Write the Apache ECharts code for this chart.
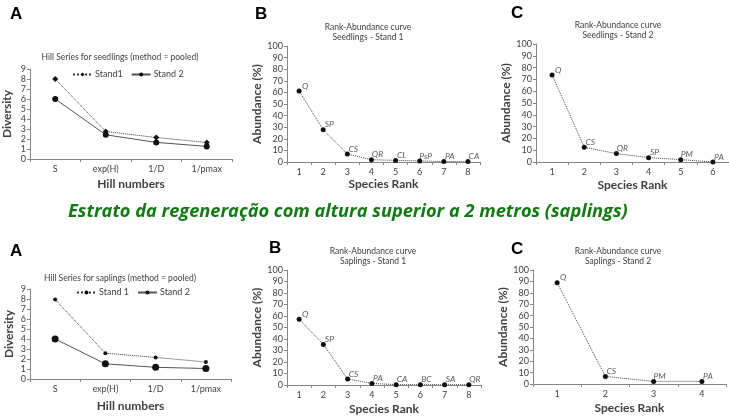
<!DOCTYPE html>
<html><head><meta charset="utf-8">
<script src="https://cdn.jsdelivr.net/npm/echarts@6/dist/echarts.min.js"></script>
<style>html,body{margin:0;padding:0;background:#fff}#c{width:729px;height:416px}</style>
</head><body><div id="c"></div>
<script>
// ---- data ----
const hillCats = ['S', 'exp(H)', '1/D', '1/pmax'];
const seedStand1 = [8, 2.75, 2.15, 1.65];
const seedStand2 = [6, 2.42, 1.66, 1.26];
const sapStand1 = [7.95, 2.58, 2.16, 1.7];
const sapStand2 = [4, 1.52, 1.17, 1.05];

const seedS1Rank = ['1','2','3','4','5','6','7','8'];
const seedS1Species = ['Q','SP','CS','QR','CL','PsP','PA','CA'];
const seedS1Abund = [61.3, 27.8, 6.9, 2, 1.4, 0.9, 0.4, 0.4];

const seedS2Rank = ['1','2','3','4','5','6'];
const seedS2Species = ['Q','CS','QR','SP','PM','PA'];
const seedS2Abund = [73.8, 12.5, 7.1, 3.7, 2, 0];

const sapS1Rank = ['1','2','3','4','5','6','7','8'];
const sapS1Species = ['Q','SP','CS','PA','CA','BC','SA','QR'];
const sapS1Abund = [57.2, 35.3, 5.2, 1.4, 0.3, 0.3, 0.3, 0.3];

const sapS2Rank = ['1','2','3','4'];
const sapS2Species = ['Q','CS','PM','PA'];
const sapS2Abund = [88.9, 6.6, 2.3, 2.3];

const FONT = 'Lato';
const TXT = '#404040';
const AX = '#868686';

const chart = echarts.init(document.getElementById('c'));

function xAx(gi, data, nameGap, name) {
  return {
    type: 'category', gridIndex: gi, data: data,
    name: name, nameLocation: 'middle', nameGap: nameGap,
    nameTextStyle: {fontFamily: FONT, fontWeight: 'bold', fontSize: 12, color: TXT},
    axisLine: {lineStyle: {color: AX, width: 1}},
    axisTick: {show: true, length: 3, lineStyle: {color: AX}},
    axisLabel: {fontFamily: FONT, fontSize: 9, color: TXT, margin: 6},
    splitLine: {show: false}
  };
}
function yAx(gi, max, interval, name, nameGap) {
  return {
    type: 'value', gridIndex: gi, min: 0, max: max, interval: interval,
    name: name, nameLocation: 'middle', nameGap: nameGap,
    nameTextStyle: {fontFamily: FONT, fontWeight: 'bold', fontSize: 12, color: TXT},
    axisLine: {show: true, lineStyle: {color: AX, width: 1}},
    axisTick: {show: true, length: 3, lineStyle: {color: AX}},
    axisLabel: {fontFamily: FONT, fontSize: 9, color: TXT, margin: 4},
    splitLine: {show: false}
  };
}
function rankSeries(gi, values, species) {
  return {
    type: 'line', xAxisIndex: gi, yAxisIndex: gi, data: values,
    symbol: 'circle', symbolSize: 5,
    itemStyle: {color: '#111'},
    lineStyle: {color: '#444', width: 1, type: 'dotted'},
    label: {
      show: true, position: 'top', distance: 0, offset: [6, 2],
      formatter: p => species[p.dataIndex],
      fontFamily: FONT, fontStyle: 'italic', fontSize: 8.5, color: '#595959'
    },
    animation: false
  };
}
function titleAt(x, y, text) {
  return {text: text, left: x, top: y, textAlign: 'center',
    textStyle: {fontFamily: FONT, fontSize: 8.5, fontWeight: 'normal', color: TXT, lineHeight: 10.5}};
}
function legendAt(x, y, names) {
  return {left: x, top: y, data: names, itemWidth: 19, itemHeight: 5, itemGap: 8,
    textStyle: {fontFamily: FONT, fontSize: 9, color: TXT, padding: [0, 0, 0, -2]}, padding: 0};
}
function hillSeries(gi, name, values, dotted, symbol, size) {
  return {
    type: 'line', name: name, xAxisIndex: gi, yAxisIndex: gi, data: values,
    symbol: symbol, symbolSize: size,
    itemStyle: {color: '#111'},
    lineStyle: {color: dotted ? '#333' : '#555', width: 1, type: dotted ? 'dotted' : 'solid'},
    animation: false
  };
}

const option = {
  animation: false,
  title: [
    titleAt(115, 47, 'Hill Series for seedlings (method = pooled)'),
    titleAt(363, 17, 'Rank-Abundance curve\nSeedlings - Stand 1'),
    titleAt(613, 15, 'Rank-Abundance curve\nSeedlings - Stand 2'),
    titleAt(115, 268, 'Hill Series for saplings (method = pooled)'),
    titleAt(368, 241, 'Rank-Abundance curve\nSaplings - Stand 1'),
    titleAt(613, 241, 'Rank-Abundance curve\nSaplings - Stand 2')
  ],
  legend: [
    legendAt(72, 70, ['Stand1', 'Stand 2']),
    legendAt(76, 288, ['Stand 1', 'Stand 2'])
  ],
  grid: [
    {left: 29, top: 69, width: 203, height: 90},
    {left: 287, top: 46, width: 193, height: 116},
    {left: 536, top: 44, width: 196, height: 118},
    {left: 30, top: 289, width: 201, height: 90},
    {left: 287, top: 270, width: 194, height: 115},
    {left: 533, top: 270, width: 193, height: 114}
  ],
  xAxis: [
    xAx(0, hillCats, 19, 'Hill numbers'),
    xAx(1, seedS1Rank, 16, 'Species Rank'),
    xAx(2, seedS2Rank, 17, 'Species Rank'),
    xAx(3, hillCats, 21, 'Hill numbers'),
    xAx(4, sapS1Rank, 18, 'Species Rank'),
    xAx(5, sapS2Rank, 18, 'Species Rank')
  ],
  yAxis: [
    yAx(0, 9, 1, 'Diversity', 17),
    yAx(1, 100, 10, 'Abundance (%)', 22),
    yAx(2, 100, 10, 'Abundance (%)', 23),
    yAx(3, 9, 1, 'Diversity', 15),
    yAx(4, 100, 10, 'Abundance (%)', 22),
    yAx(5, 100, 10, 'Abundance (%)', 21)
  ],
  series: [
    hillSeries(0, 'Stand1', seedStand1, true, 'diamond', 6),
    hillSeries(0, 'Stand 2', seedStand2, false, 'circle', 6),
    rankSeries(1, seedS1Abund, seedS1Species),
    rankSeries(2, seedS2Abund, seedS2Species),
    hillSeries(3, 'Stand 1', sapStand1, true, 'circle', 4),
    hillSeries(3, 'Stand 2', sapStand2, false, 'circle', 7),
    rankSeries(4, sapS1Abund, sapS1Species),
    rankSeries(5, sapS2Abund, sapS2Species)
  ],
  graphic: [
    {type: 'text', left: 10, top: 6, style: {text: 'A', font: 'bold 17px "Liberation Sans"', fill: '#000'}},
    {type: 'text', left: 255, top: 6, style: {text: 'B', font: 'bold 17px "Liberation Sans"', fill: '#000'}},
    {type: 'text', left: 511, top: 5, style: {text: 'C', font: 'bold 17px "Liberation Sans"', fill: '#000'}},
    {type: 'text', left: 10, top: 243, style: {text: 'A', font: 'bold 17px "Liberation Sans"', fill: '#000'}},
    {type: 'text', left: 269, top: 240, style: {text: 'B', font: 'bold 17px "Liberation Sans"', fill: '#000'}},
    {type: 'text', left: 511, top: 241, style: {text: 'C', font: 'bold 17px "Liberation Sans"', fill: '#000'}},
    {type: 'text', left: 68, top: 203, style: {text: 'Estrato da regeneração com altura superior a 2 metros (saplings)', font: 'italic bold 18.2px "Open Sans"', fill: '#127a12'}}
  ]
};
chart.setOption(option);
</script>
</body></html>
